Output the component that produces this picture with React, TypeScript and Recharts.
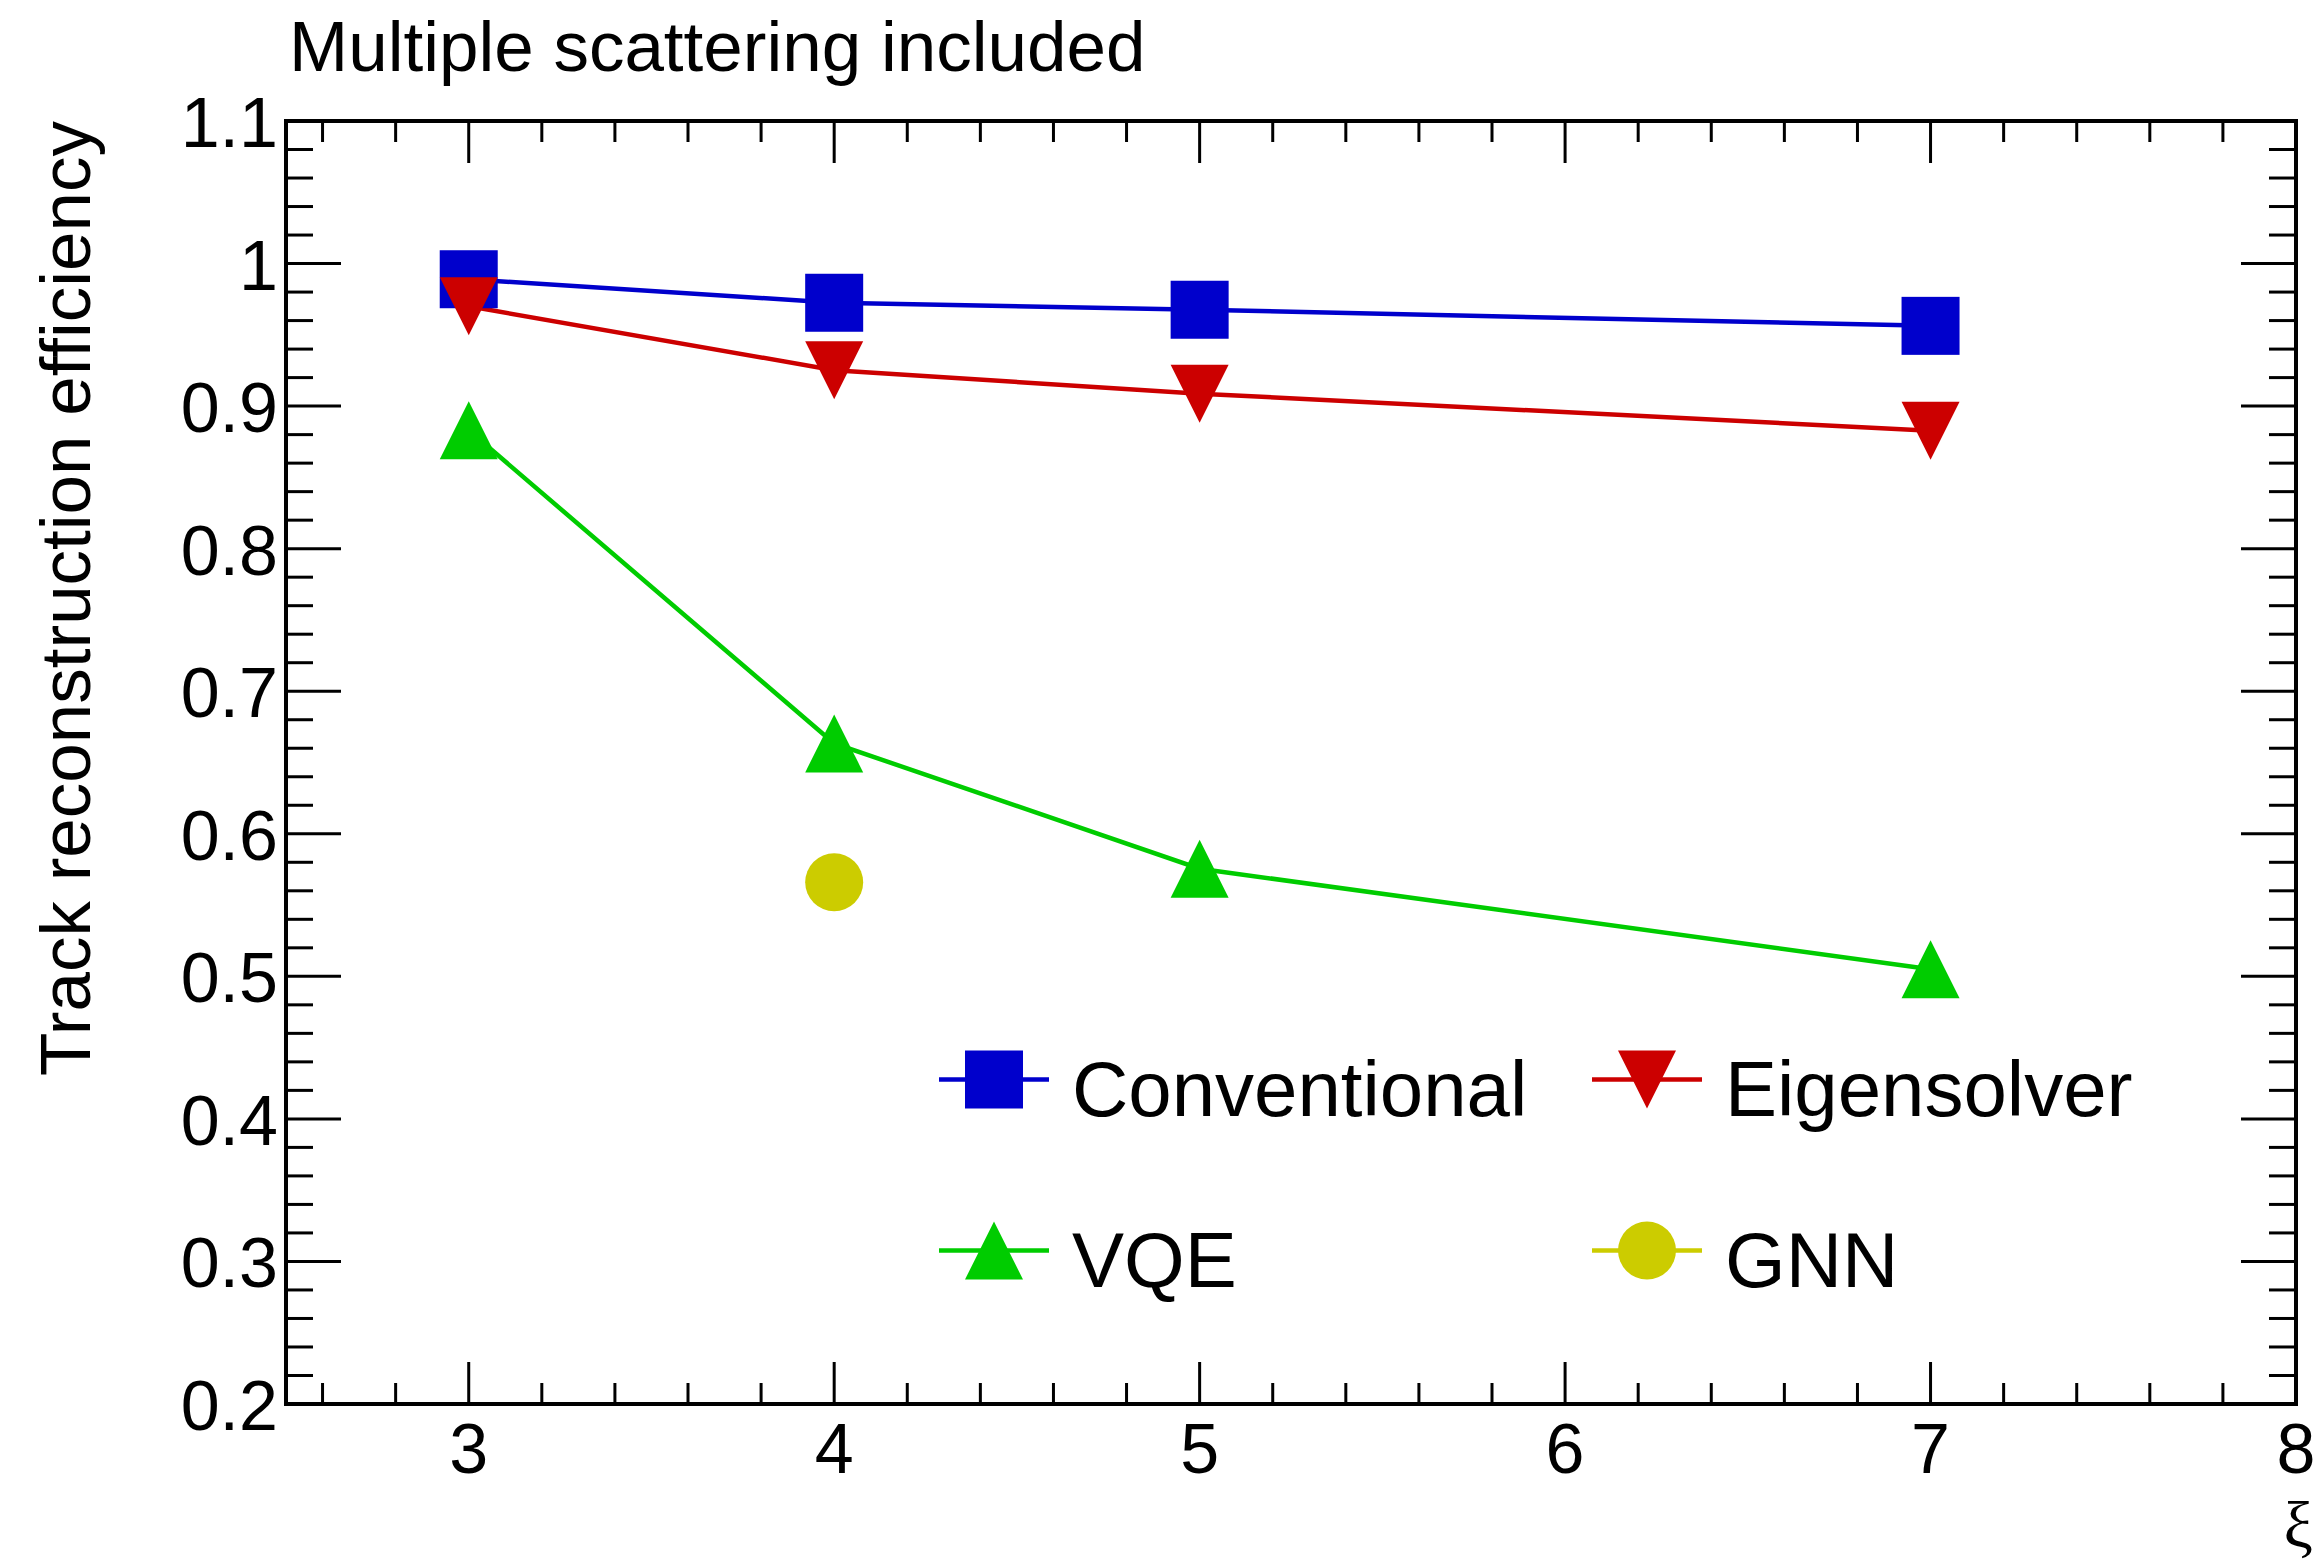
import React from "react"
import { LineChart, Line, XAxis, YAxis, Legend, Customized } from "recharts"

// xi values and efficiencies
const xiValues = [3, 4, 5, 7]
const conventional = [0.989, 0.9725, 0.9676, 0.9563]
const eigensolver = [0.97, 0.9252, 0.9087, 0.8828]
const vqe = [0.8831, 0.6634, 0.5755, 0.505]
const gnn = [null, 0.566, null, null]

const xMajorTicks = [3, 4, 5, 6, 7, 8]
const yMajorTicks = [0.2, 0.3, 0.4, 0.5, 0.6, 0.7, 0.8, 0.9, 1.0, 1.1]

const legendOrder = ["conventional", "eigensolver", "vqe", "gnn"]

const X_DOMAIN: [number, number] = [2.5, 8]
const Y_DOMAIN: [number, number] = [0.2, 1.1]

const FONT = "'Liberation Sans', Arial, Helvetica, sans-serif"
const W = 2315
const H = 1562
const LINE_W = 4.5

// minor ticks: 5 divisions per major step
const xTicks: number[] = []
for (let i = 13; i <= 40; i++) xTicks.push(i / 5)
const yTicks: number[] = []
for (let i = 10; i <= 55; i++) yTicks.push(i / 50)

const isMajor = (v: number, majors: number[]) => majors.some((m) => Math.abs(m - v) < 1e-6)
const fmtY = (v: number) => String(Math.round(v * 10) / 10)

const data = xiValues.map((xi, i) => ({
  xi,
  conventional: conventional[i],
  eigensolver: eigensolver[i],
  vqe: vqe[i],
  gnn: gnn[i],
}))

const shapes: Record<string, string> = {
  conventional: "square",
  eigensolver: "down",
  vqe: "up",
  gnn: "circle",
}

function Marker({ cx, cy, shape, color }: { cx: number; cy: number; shape: string; color: string }) {
  const s = 29
  if (shape === "square") return <rect x={cx - s} y={cy - s} width={2 * s} height={2 * s} fill={color} />
  if (shape === "down")
    return <polygon points={`${cx - s},${cy - s} ${cx + s},${cy - s} ${cx},${cy + s}`} fill={color} />
  if (shape === "up")
    return <polygon points={`${cx - s},${cy + s} ${cx + s},${cy + s} ${cx},${cy - s}`} fill={color} />
  return <circle cx={cx} cy={cy} r={s} fill={color} />
}

const makeDot = (key: string, color: string) => (p: any) => {
  if (p.cy == null || p.value == null || (Array.isArray(p.value) && p.value[1] == null))
    return <g key={`${key}-${p.index}`} />
  return (
    <g key={`${key}-${p.index}`}>
      <Marker cx={p.cx} cy={p.cy} shape={shapes[key]} color={color} />
    </g>
  )
}

function BottomTick(props: any) {
  const { x, y, payload } = props
  const major = isMajor(payload.value, xMajorTicks)
  return (
    <g>
      <line x1={x} x2={x} y1={y} y2={y - (major ? 42 : 21)} stroke="#000" strokeWidth={3} />
      {major && (
        <text x={x} y={y + 69} textAnchor="middle" fontSize={70} fontFamily={FONT} fill="#000">
          {payload.value}
        </text>
      )}
    </g>
  )
}

function TopTick(props: any) {
  const { x, y, payload } = props
  const major = isMajor(payload.value, xMajorTicks)
  return <line x1={x} x2={x} y1={y} y2={y + (major ? 42 : 21)} stroke="#000" strokeWidth={3} />
}

function LeftTick(props: any) {
  const { x, y, payload } = props
  const major = isMajor(payload.value, yMajorTicks)
  return (
    <g>
      <line x1={x} x2={x + (major ? 55 : 27)} y1={y} y2={y} stroke="#000" strokeWidth={3} />
      {major && (
        <text x={x - 8} y={y + 26} textAnchor="end" fontSize={70} fontFamily={FONT} fill="#000">
          {fmtY(payload.value)}
        </text>
      )}
    </g>
  )
}

function RightTick(props: any) {
  const { x, y, payload } = props
  const major = isMajor(payload.value, yMajorTicks)
  return <line x1={x} x2={x - (major ? 55 : 27)} y1={y} y2={y} stroke="#000" strokeWidth={3} />
}

function LegendContent({ payload }: any) {
  const items = [...(payload || [])].sort(
    (a: any, b: any) => legendOrder.indexOf(a.dataKey) - legendOrder.indexOf(b.dataKey),
  )
  return (
    <div
      style={{
        display: "grid",
        gridTemplateColumns: "653px 653px",
        gridAutoRows: "171px",
        fontFamily: FONT,
      }}
    >
      {items.map((entry: any) => (
        <div key={entry.value} style={{ display: "flex", alignItems: "center" }}>
          <svg width={110} height={171} style={{ display: "block" }}>
            <line x1={0} x2={110} y1={85.5} y2={85.5} stroke={entry.color} strokeWidth={LINE_W} />
            <Marker cx={55} cy={85.5} shape={shapes[entry.dataKey]} color={entry.color} />
          </svg>
          <span
            style={{ marginLeft: 23, fontSize: 78, lineHeight: "78px", position: "relative", top: 10, color: "#000" }}
          >
            {entry.value}
          </span>
        </div>
      ))}
    </div>
  )
}

const axisLine = { stroke: "#000", strokeWidth: 4, strokeLinecap: "square" as const }

export default function App() {
  return (
    <div style={{ position: "absolute", left: 0, top: 0, width: W, height: H, background: "#fff" }}>
      <LineChart
        width={W}
        height={H}
        data={data}
        margin={{ top: 101, right: 9, bottom: 78, left: 166 }}
        style={{ fontFamily: FONT }}
      >
        <XAxis
          dataKey="xi"
          type="number"
          domain={X_DOMAIN}
          allowDataOverflow
          ticks={xTicks}
          interval={0}
          height={80}
          tickSize={0}
          tickMargin={0}
          tickLine={false}
          axisLine={axisLine}
          tick={<BottomTick />}
        />
        <XAxis
          xAxisId="top"
          orientation="top"
          dataKey="xi"
          type="number"
          domain={X_DOMAIN}
          allowDataOverflow
          ticks={xTicks}
          interval={0}
          height={20}
          tickSize={0}
          tickMargin={0}
          tickLine={false}
          axisLine={axisLine}
          tick={<TopTick />}
        />
        <YAxis
          type="number"
          domain={Y_DOMAIN}
          allowDataOverflow
          ticks={yTicks}
          interval={0}
          width={120}
          tickSize={0}
          tickMargin={0}
          tickLine={false}
          axisLine={axisLine}
          tick={<LeftTick />}
        />
        <YAxis
          yAxisId="right"
          orientation="right"
          type="number"
          domain={Y_DOMAIN}
          allowDataOverflow
          ticks={yTicks}
          interval={0}
          width={10}
          tickSize={0}
          tickMargin={0}
          tickLine={false}
          axisLine={axisLine}
          tick={<RightTick />}
        />
        <Line
          dataKey="conventional"
          name="Conventional"
          stroke="#0000cc"
          strokeWidth={LINE_W}
          dot={makeDot("conventional", "#0000cc")}
          activeDot={false}
          isAnimationActive={false}
        />
        <Line
          dataKey="eigensolver"
          name="Eigensolver"
          stroke="#cc0000"
          strokeWidth={LINE_W}
          dot={makeDot("eigensolver", "#cc0000")}
          activeDot={false}
          isAnimationActive={false}
        />
        <Line
          dataKey="vqe"
          name="VQE"
          stroke="#00cc00"
          strokeWidth={LINE_W}
          dot={makeDot("vqe", "#00cc00")}
          activeDot={false}
          isAnimationActive={false}
        />
        <Line
          dataKey="gnn"
          name="GNN"
          stroke="#cccc00"
          strokeWidth={LINE_W}
          dot={makeDot("gnn", "#cccc00")}
          activeDot={false}
          isAnimationActive={false}
        />
        <Legend
          layout="horizontal"
          verticalAlign="middle"
          align="center"
          content={<LegendContent />}
          wrapperStyle={{ left: 939, top: 993.5, width: 1306 }}
        />
        <Customized
          component={() => (
            <g fontFamily={FONT} fill="#000">
              <text x={289} y={71} fontSize={71}>
                Multiple scattering included
              </text>
              <text transform="translate(90,121) rotate(-90)" textAnchor="end" fontSize={71}>
                Track reconstruction efficiency
              </text>
              <text x={2313} y={1547} textAnchor="end" fontSize={66} fontFamily="'Liberation Serif', serif">
                ξ
              </text>
            </g>
          )}
        />
      </LineChart>
    </div>
  )
}
